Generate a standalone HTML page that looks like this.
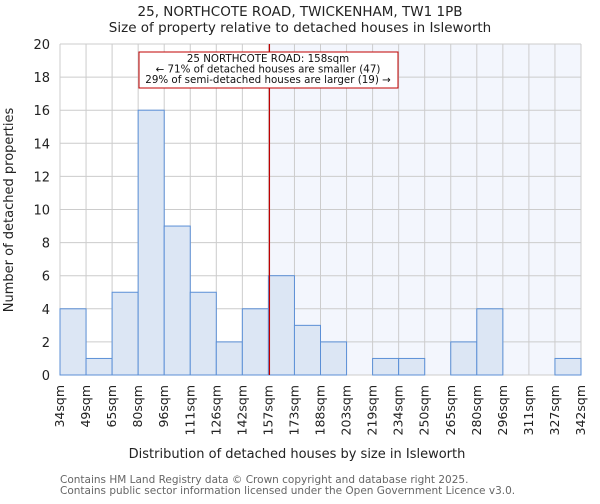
<!DOCTYPE html>
<html><head><meta charset="utf-8"><style>
body{margin:0;background:#fff;font-family:"DejaVu Sans","Liberation Sans",sans-serif}
svg text{font-family:"DejaVu Sans","Liberation Sans",sans-serif}
</style></head><body>
<svg id="c" width="600" height="500"></svg>
<script>
const edges=["34sqm","49sqm","65sqm","80sqm","96sqm","111sqm","126sqm","142sqm","157sqm","173sqm","188sqm","203sqm","219sqm","234sqm","250sqm","265sqm","280sqm","296sqm","311sqm","327sqm","342sqm"];
const counts=[4,1,5,16,9,5,2,4,6,3,2,0,1,1,0,2,4,0,0,1];
const yTicks=[0,2,4,6,8,10,12,14,16,18,20];
const markerBin=8.04;
const L=60,R=581,T=44,B=375,NS="http://www.w3.org/2000/svg";
const svg=document.getElementById('c');
const n=counts.length,bw=(R-L)/n;
const xs=i=>L+i*bw, ys=v=>B-(v/20)*(B-T);
function el(t,a,p){const e=document.createElementNS(NS,t);for(const k in a)e.setAttribute(k,a[k]);(p||svg).appendChild(e);return e;}
const mx=xs(markerBin);
let e=el('rect',{x:mx,y:T,width:R-mx,height:B-T,fill:'#f3f6fd'});


yTicks.forEach(v=>{let g=el('line',{x1:L,x2:R,y1:ys(v),y2:ys(v),stroke:'#cccccc','stroke-width':1});


let t=el('text',{x:L-10,y:ys(v)+5,'text-anchor':'end','font-size':13,fill:'#222'});t.textContent=v;

});
edges.forEach((s,i)=>{let g=el('line',{x1:xs(i),x2:xs(i),y1:T,y2:B,stroke:'#cccccc','stroke-width':1});


let x=xs(i)+4,y=B+10;
let t=el('text',{x:x,y:y,'text-anchor':'end','font-size':12.5,fill:'#222',transform:`rotate(-90 ${x} ${y})`});t.textContent=s;

});
counts.forEach((v,i)=>{if(v<=0)return;let r=el('rect',{x:xs(i),y:ys(v),width:bw,height:B-ys(v),fill:'#dce6f4',stroke:'#5b8fd6','stroke-width':1});

});
e=el('line',{x1:mx,x2:mx,y1:T,y2:B,stroke:'#c00000','stroke-width':1.2});


e=el('rect',{x:139,y:52,width:259,height:36,fill:'#fff',stroke:'#c00000','stroke-width':1});


["25 NORTHCOTE ROAD: 158sqm","← 71% of detached houses are smaller (47)","29% of semi-detached houses are larger (19) →"].forEach((s,i)=>{let t=el('text',{x:268,y:62+i*10.5,'text-anchor':'middle','font-size':10.3,fill:'#111'});t.textContent=s;

});
function txt(s,x,y,sz,name,col,extra){let t=el('text',Object.assign({x:x,y:y,'font-size':sz,fill:col||'#222'},extra||{}));t.textContent=s;

return t;}
txt("25, NORTHCOTE ROAD, TWICKENHAM, TW1 1PB",300,16,13.5,'chart-title','#222',{'text-anchor':'middle'});
txt("Size of property relative to detached houses in Isleworth",300,32,13.5,'chart-subtitle','#222',{'text-anchor':'middle'});
txt("Distribution of detached houses by size in Isleworth",297,458,13,'x-axis-title','#222',{'text-anchor':'middle'});
txt("Number of detached properties",13,210,13,'y-axis-title','#222',{'text-anchor':'middle',transform:'rotate(-90 13 210)'});
txt("Contains HM Land Registry data © Crown copyright and database right 2025.",60,483,10.5,'footer-line-1','#666');
txt("Contains public sector information licensed under the Open Government Licence v3.0.",60,494,10.5,'footer-line-2','#666');
</script>
</body></html>
